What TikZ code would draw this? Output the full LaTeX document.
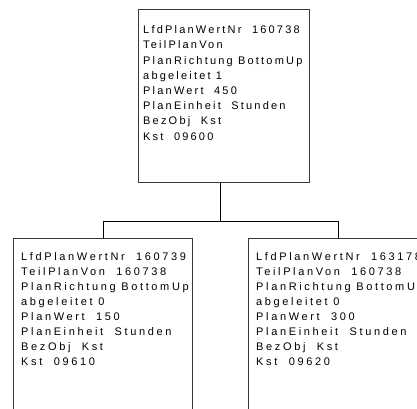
\documentclass[tikz,border=0pt]{standalone}
\usepackage{fontspec}
\setmainfont{Liberation Sans}
\newfontfamily\planfontA[LetterSpace=20]{Liberation Sans}
\newfontfamily\planfontB[LetterSpace=24]{Liberation Sans}
\newcommand{\firstline}{\rule{0pt}{8pt}}
\tikzset{
  planbox/.style={draw=black!78, line width=1.4pt, fill=white, rectangle,
    inner sep=0pt, anchor=north west},
  plantext/.style={anchor=north west, align=left, inner sep=0pt, text=black},
  link/.style={draw=black, line width=1pt},
}
\begin{document}
\begin{tikzpicture}[x=1pt, y=-1pt]
  \useasboundingbox (0,0) rectangle (417,408);
  \clip (0,0) rectangle (417,408);
  % parent plan value
  \node[planbox, minimum width=171pt, minimum height=173pt] (top) at (138,9) {};
  \node[plantext, font=\planfontA\fontsize{11}{15.2}\selectfont] (toptext) at (143,25.5)
    {\firstline LfdPlanWertNr~ 160738\\ TeilPlanVon\\ PlanRichtung BottomUp\\ abgeleitet 1\\
     PlanWert~ 450\\ PlanEinheit~ Stunden\\ BezObj~ Kst\\ Kst~ 09600};
  % derived plan values
  \node[planbox, minimum width=179pt, minimum height=190pt] (left) at (13,238) {};
  \node[plantext, font=\planfontB\fontsize{11}{15}\selectfont] (lefttext) at (21,252)
    {\firstline LfdPlanWertNr~ 160739\\ TeilPlanVon~ 160738\\ PlanRichtung BottomUp\\ abgeleitet 0\\
     PlanWert~ 150\\ PlanEinheit~ Stunden\\ BezObj~ Kst\\ Kst~ 09610};
  \node[planbox, minimum width=179pt, minimum height=190pt] (right) at (248,238) {};
  \node[plantext, font=\planfontB\fontsize{11}{15}\selectfont] (righttext) at (256,252)
    {\firstline LfdPlanWertNr~ 163178\\ TeilPlanVon~ 160738\\ PlanRichtung BottomUp\\ abgeleitet 0\\
     PlanWert~ 300\\ PlanEinheit~ Stunden\\ BezObj~ Kst\\ Kst~ 09620};
  % tree connector
  \coordinate (split) at (220,221);
  \draw[link] (top.south -| split) -- (split);
  \draw[link] (left.north) -- (left.north |- split) -- (right.north |- split) -- (right.north);
\end{tikzpicture}
\end{document}
